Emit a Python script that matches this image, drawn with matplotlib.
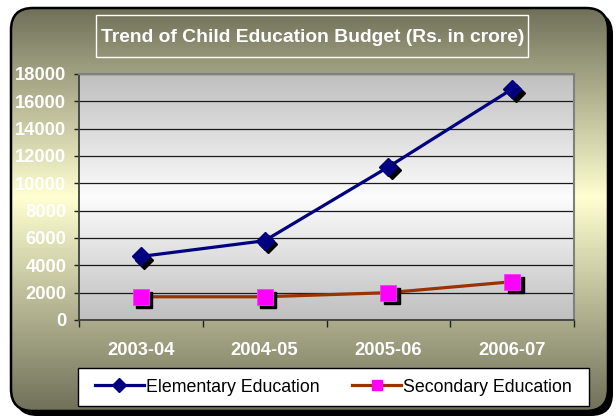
import numpy as np
import matplotlib
matplotlib.use('Agg')
import matplotlib.pyplot as plt
from matplotlib.patches import FancyBboxPatch, Rectangle
from matplotlib.colors import LinearSegmentedColormap
from matplotlib.lines import Line2D
from matplotlib.ticker import FixedLocator
import matplotlib.transforms as mtransforms

plt.rcParams['font.family'] = ['Liberation Sans', 'DejaVu Sans']

years = ['2003-04', '2004-05', '2005-06', '2006-07']
elementary = [4650, 5800, 11200, 16900]
secondary = [1700, 1700, 2000, 2800]
yticks = list(range(0, 18001, 2000))
title = 'Trend of Child Education Budget (Rs. in crore)'
series_names = ['Elementary Education', 'Secondary Education']

W, H = 616, 417
fig = plt.figure(figsize=(W / 100, H / 100), dpi=100, facecolor='white')

# ---- background panel ----
bg = fig.add_axes([0, 0, 1, 1], zorder=-10)
bg.set_xlim(0, W)
bg.set_ylim(H, 0)
bg.axis('off')

shadow = FancyBboxPatch((15, 12), 598, 404, boxstyle='round,pad=0,rounding_size=22',
                        fc='black', ec='black', lw=0)
bg.add_patch(shadow)
panel = FancyBboxPatch((11, 8), 597, 403, boxstyle='round,pad=0,rounding_size=22',
                       fc='none', ec='black', lw=1.8, zorder=3)
bg.add_patch(panel)
bg_cmap = LinearSegmentedColormap.from_list(
    'bg', [(0.0, (0.44, 0.44, 0.35)), (0.47, (1.0, 1.0, 0.82)), (1.0, (0.44, 0.44, 0.35))])
grad = np.linspace(0, 1, 256).reshape(-1, 1)
im = bg.imshow(grad, extent=(11, 608, 411, 8), origin='upper', cmap=bg_cmap,
               aspect='auto', zorder=2)
im.set_clip_path(panel)

bg.add_patch(Rectangle((96, 15), 432, 42, fill=False, ec='white', lw=1.0, zorder=4))
bg.text(313, 37, title, color='white', fontsize=13.9, fontweight='bold',
        ha='center', va='center', zorder=5)

# legend frame
bg.add_patch(Rectangle((78, 368), 511, 38, fc='white', ec='black', lw=1.0, zorder=4))

# ---- plot area ----
ax = fig.add_axes([79 / W, (H - 320) / H, (574 - 79) / W, (320 - 74) / H])
ax.set_xlim(-0.5, 3.5)
ax.set_ylim(0, 18000)
plot_cmap = LinearSegmentedColormap.from_list(
    'pa', [(0.0, (0.75, 0.75, 0.75)), (0.5, (0.99, 0.99, 0.99)), (1.0, (0.75, 0.75, 0.75))])
ax.imshow(grad, extent=(-0.5, 3.5, 0, 18000), origin='lower', cmap=plot_cmap,
          aspect='auto', zorder=0)
ax.set_axisbelow(True)
ax.grid(axis='y', color='#1a1a1a', lw=0.9)

ax.set_yticks(yticks)
ax.set_yticklabels([str(v) for v in yticks])
ax.set_xticks(range(len(years)))
ax.set_xticklabels(years)
ax.xaxis.set_minor_locator(FixedLocator([-0.5, 0.5, 1.5, 2.5, 3.5]))
ax.tick_params(axis='x', which='major', length=0, pad=16, labelsize=13.2, labelcolor='white')
ax.tick_params(axis='x', which='minor', length=5, width=1, color='#202020', direction='out')
ax.tick_params(axis='y', length=3.6, width=1, color='#202020', pad=5.5, labelsize=13.2,
               labelcolor='white')
for lab in ax.get_xticklabels() + ax.get_yticklabels():
    lab.set_fontweight('bold')

for side in ['left', 'bottom']:
    ax.spines[side].set_color('#404040')
    ax.spines[side].set_linewidth(1.3)
for side in ['top', 'right']:
    ax.spines[side].set_color('#808080')
    ax.spines[side].set_linewidth(1.5)

x = np.arange(len(years))
off = mtransforms.offset_copy(ax.transData, fig=fig, x=3.5, y=-3.5, units='dots')

ax.plot(x, elementary, color='#000080', lw=2.3, zorder=3)
ax.plot(x, elementary, ls='none', marker='D', ms=9.5, color='black', mec='black',
        transform=off, zorder=4, clip_on=False)
ax.plot(x, elementary, ls='none', marker='D', ms=9.5, color='#000080', mec='#000080',
        zorder=5, clip_on=False)

ax.plot(x, secondary, color='#993300', lw=2.3, zorder=3)
ax.plot(x, secondary, ls='none', marker='s', ms=11.5, color='black', mec='black',
        transform=off, zorder=4, clip_on=False)
ax.plot(x, secondary, ls='none', marker='s', ms=11.5, color='#ff00ff', mec='#ff33ff',
        mew=0.6, zorder=5, clip_on=False)

handles = [
    Line2D([], [], color='#000080', lw=2.3, marker='D', ms=7.5),
    Line2D([], [], color='#993300', lw=2.3, marker='s', ms=7.5, mfc='#ff00ff', mec='#ff00ff'),
]
leg = fig.legend(handles, series_names, loc='center', bbox_to_anchor=(333.5 / W, 1 - 387 / H),
                 ncol=2, fontsize=12.8, frameon=False, handlelength=2.75, handletextpad=0.12,
                 columnspacing=1.85, borderpad=0.2, borderaxespad=0)

fig.savefig('out.png', dpi=100, facecolor='white')
